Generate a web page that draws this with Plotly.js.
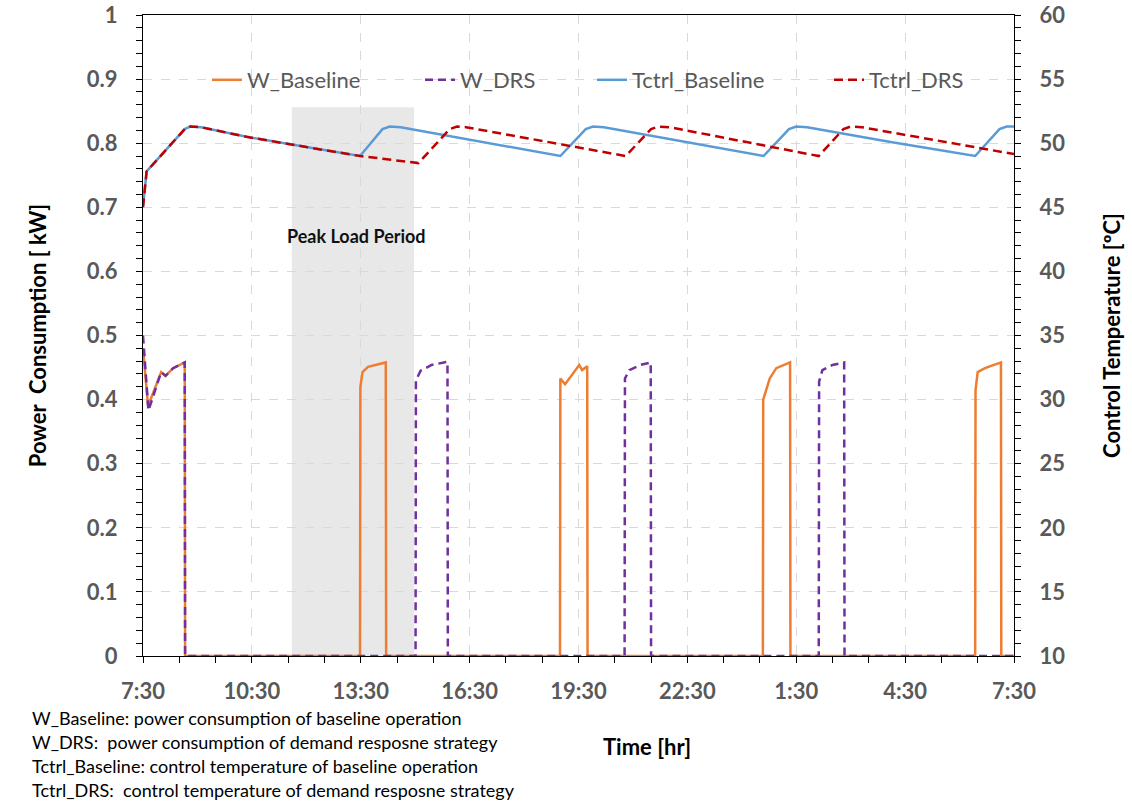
<!DOCTYPE html>
<html>
<head>
<meta charset="utf-8">
<script src="https://cdn.plot.ly/plotly-3.0.1.min.js"></script>
<style>html,body{margin:0;padding:0;background:#fff;}#chart{width:1132px;height:801px;}</style>
</head>
<body>
<div id="chart"></div>
<script>
// Hours elapsed since 7:30
var xTickVals = [0, 3, 6, 9, 12, 15, 18, 21, 24];
var xTickText = ["7:30", "10:30", "13:30", "16:30", "19:30", "22:30", "1:30", "4:30", "7:30"];
var yTickVals = [0, 0.1, 0.2, 0.3, 0.4, 0.5, 0.6, 0.7, 0.8, 0.9, 1];
var yTickText = ["0", "0.1", "0.2", "0.3", "0.4", "0.5", "0.6", "0.7", "0.8", "0.9", "1"];

// Power consumption [kW]
var wBaseHours = [0, 0.14, 0.5, 0.62, 0.83, 1.1, 1.15, 1.16,
  5.98, 5.99, 6.05, 6.2, 6.69, 6.7,
  11.49, 11.5, 11.63, 12.02, 12.1, 12.24, 12.25,
  17.08, 17.09, 17.27, 17.45, 17.83, 17.84,
  22.93, 22.94, 23.0, 23.2, 23.64, 23.65, 24];
var wBaseVals = [0.48, 0.39, 0.443, 0.437, 0.449, 0.457, 0.458, 0,
  0, 0.42, 0.443, 0.451, 0.458, 0,
  0, 0.433, 0.424, 0.454, 0.446, 0.452, 0,
  0, 0.40, 0.433, 0.449, 0.458, 0,
  0, 0.415, 0.443, 0.449, 0.458, 0, 0];

var wDrsHours = [0, 0.15, 0.5, 0.62, 0.83, 1.1, 1.15, 1.16,
  7.51, 7.52, 7.65, 7.95, 8.39, 8.4,
  13.27, 13.28, 13.4, 13.7, 13.99, 14.0,
  18.62, 18.63, 18.72, 19.0, 19.32, 19.33, 24];
var wDrsVals = [0.5, 0.383, 0.443, 0.437, 0.449, 0.457, 0.458, 0,
  0, 0.43, 0.445, 0.454, 0.459, 0,
  0, 0.433, 0.446, 0.454, 0.458, 0,
  0, 0.428, 0.446, 0.454, 0.458, 0, 0];

// Control temperature [°C]
var tBaseHours = [0, 0.1, 1.15, 1.3, 1.6, 2.85, 4.5, 5.98,
  6.6, 6.8, 7.1, 9.3, 11.5,
  12.2, 12.4, 12.7, 15.0, 17.1,
  17.8, 18.0, 18.3, 20.6, 22.93,
  23.6, 23.8, 24];
var tBaseVals = [45.1, 47.8, 51.1, 51.3, 51.25, 50.5, 49.7, 49.0,
  51.1, 51.3, 51.25, 50.1, 49.0,
  51.1, 51.3, 51.25, 50.1, 49.0,
  51.1, 51.3, 51.25, 50.1, 49.0,
  51.1, 51.3, 51.3];

var tDrsHours = [0, 0.1, 1.15, 1.3, 1.6, 2.85, 4.5, 5.98, 7.59,
  8.45, 8.65, 8.9, 13.3,
  14.0, 14.2, 14.5, 18.62,
  19.3, 19.5, 19.8, 24];
var tDrsVals = [45.0, 47.8, 51.1, 51.3, 51.25, 50.5, 49.7, 49.0, 48.45,
  51.1, 51.3, 51.25, 49.0,
  51.1, 51.3, 51.25, 49.0,
  51.1, 51.3, 51.25, 49.15];

var peakStart = 4.1, peakEnd = 7.47, peakTop = 0.856;

var noteLines = [
  "W_Baseline: power consumption of baseline operation",
  "W_DRS:  power consumption of demand resposne strategy",
  "Tctrl_Baseline: control temperature of baseline operation",
  "Tctrl_DRS:  control temperature of demand resposne strategy"
];

var FONT = "Lato, 'Open Sans', sans-serif";
var GRAY = "#595959";

var traces = [
  {x: wBaseHours, y: wBaseVals, name: "W_Baseline", type: "scatter", mode: "lines",
   line: {color: "#ED7D31", width: 2.5}, yaxis: "y", legend: "legend"},
  {x: wDrsHours, y: wDrsVals, name: "W_DRS", type: "scatter", mode: "lines",
   line: {color: "#7030A0", width: 2.5, dash: "8px,5px"}, yaxis: "y", legend: "legend2"},
  {x: tBaseHours, y: tBaseVals, name: "Tctrl_Baseline", type: "scatter", mode: "lines",
   line: {color: "#5B9BD5", width: 2.5}, yaxis: "y2", legend: "legend3"},
  {x: tDrsHours, y: tDrsVals, name: "Tctrl_DRS", type: "scatter", mode: "lines",
   line: {color: "#C00000", width: 2.5, dash: "9px,5px"}, yaxis: "y2", legend: "legend4"}
];

function legendAt(px) {
  return {x: (px - 143) / 871, xanchor: "left", y: (656 - 80) / 641, yanchor: "middle",
    bgcolor: "rgba(0,0,0,0)", font: {family: FONT, size: 22, color: GRAY}, orientation: "h"};
}

var tickFont = {family: FONT, size: 22, color: GRAY, weight: "bold"};
var titleFont = {family: FONT, size: 22, color: "#000", weight: "bold"};

var layout = {
  width: 1132, height: 801,
  margin: {l: 143, r: 118, t: 15, b: 145, pad: 0},
  paper_bgcolor: "#fff", plot_bgcolor: "#fff",
  showlegend: true,
  legend: legendAt(207), legend2: legendAt(420), legend3: legendAt(592), legend4: legendAt(829),
  xaxis: {
    range: [0, 24], tickmode: "array", tickvals: xTickVals, ticktext: xTickText,
    ticks: "outside", ticklen: 6, tickwidth: 1.2, tickcolor: "#000",
    showline: true, linecolor: "#000", linewidth: 1.2, mirror: true, layer: "below traces",
    showgrid: true, gridcolor: "#D9D9D9", griddash: "dash", gridwidth: 1,
    zeroline: false, tickfont: tickFont, ticklabelstandoff: 9,
    minor: {dtick: 1, tick0: 0, ticks: "outside", ticklen: 6, tickcolor: "#000", tickwidth: 1, showgrid: false}
  },
  xaxis2: {
    overlaying: "x", anchor: "y", range: [0, 24], tickmode: "array", tickvals: xTickVals,
    ticks: "inside", ticklen: 7, tickwidth: 1.2, tickcolor: "#000", showticklabels: false,
    showgrid: false, showline: false, zeroline: false
  },
  yaxis: {
    range: [0, 1], tickmode: "array", tickvals: yTickVals, ticktext: yTickText,
    ticks: "outside", ticklen: 6, tickwidth: 1.2, tickcolor: "#000",
    showline: true, linecolor: "#000", linewidth: 1.2, layer: "below traces",
    showgrid: true, gridcolor: "#D9D9D9", griddash: "dash", gridwidth: 1,
    zeroline: false, tickfont: tickFont, ticklabelstandoff: 14,
    minor: {dtick: 0.02, tick0: 0, ticks: "outside", ticklen: 6, tickcolor: "#000", tickwidth: 1, showgrid: false},
    title: {text: "Power  Consumption [ kW]", font: titleFont, standoff: 34}
  },
  yaxis2: {
    overlaying: "y", side: "right", anchor: "x", range: [10, 60], dtick: 5, tick0: 10,
    ticks: "outside", ticklen: 6, tickwidth: 1.2, tickcolor: "#000",
    showline: true, linecolor: "#000", linewidth: 1.2,
    showgrid: false, zeroline: false, tickfont: tickFont, ticklabelstandoff: 14,
    minor: {dtick: 1, tick0: 10, ticks: "outside", ticklen: 6, tickcolor: "#000", tickwidth: 1, showgrid: false},
    title: {text: "Control Temperature [ºC]", font: titleFont, standoff: 40}
  },
  yaxis3: {
    overlaying: "y", side: "left", anchor: "x", range: [0, 1], tickmode: "array", tickvals: yTickVals,
    ticks: "inside", ticklen: 6, tickwidth: 1.2, tickcolor: "#000", showticklabels: false,
    showgrid: false, showline: false, zeroline: false
  },
  yaxis4: {
    overlaying: "y", side: "right", anchor: "x", range: [10, 60], dtick: 5, tick0: 10,
    ticks: "inside", ticklen: 6, tickwidth: 1.2, tickcolor: "#000", showticklabels: false,
    showgrid: false, showline: false, zeroline: false
  },
  shapes: [
    {type: "rect", xref: "x", yref: "y", x0: peakStart, x1: peakEnd, y0: 0, y1: peakTop,
     fillcolor: "#E8E8E8", line: {width: 0}, layer: "below"}
  ],
  annotations: [
    {xref: "x", yref: "y", x: (peakStart + peakEnd) / 2 + 0.1, y: 0.656, text: "Peak Load Period", showarrow: false,
     font: {family: FONT, size: 18, color: "#111", weight: "bold"}},
    {xref: "paper", yref: "paper", x: (647 - 143) / 871, y: (656 - 746) / 641, text: "Time [hr]", showarrow: false,
     xanchor: "center", yanchor: "middle", font: titleFont}
  ]
};

var noteY = [718, 742, 766, 790];
for (var i = 0; i < noteLines.length; i++) {
  layout.annotations.push({xref: "paper", yref: "paper", x: (30 - 143) / 871, y: (656 - noteY[i]) / 641,
    xanchor: "left", yanchor: "middle", text: noteLines[i], showarrow: false,
    font: {family: FONT, size: 18, color: "#000"}});
}

Plotly.newPlot("chart", traces, layout, {displayModeBar: false, responsive: false});
</script>
</body>
</html>
